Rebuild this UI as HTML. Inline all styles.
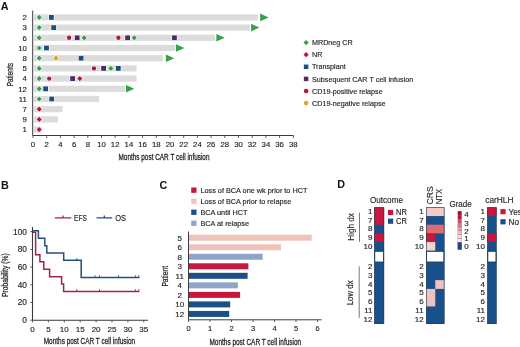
<!DOCTYPE html><html><head><meta charset="utf-8"><style>html,body{margin:0;padding:0;background:#fff;width:520px;height:347px;overflow:hidden}svg{display:block;will-change:transform}text{font-family:"Liberation Sans",sans-serif}</style></head><body>
<svg width="520" height="347" viewBox="0 0 520 347">
<rect width="520" height="347" fill="#fff"/>
<text x="0.8" y="9.8" font-size="10.8" fill="#111" text-anchor="start" font-weight="bold" >A</text>
<rect x="34" y="14.299999999999999" width="224.0" height="6.2" fill="#dcdcdc"/>
<rect x="34" y="24.499999999999996" width="216.1" height="6.2" fill="#dcdcdc"/>
<rect x="34" y="34.699999999999996" width="181.1" height="6.2" fill="#dcdcdc"/>
<rect x="34" y="44.9" width="141.5" height="6.2" fill="#dcdcdc"/>
<rect x="34" y="55.099999999999994" width="128.8" height="6.2" fill="#dcdcdc"/>
<rect x="34" y="65.30000000000001" width="102.6" height="6.2" fill="#dcdcdc"/>
<rect x="34" y="75.5" width="102.6" height="6.2" fill="#dcdcdc"/>
<rect x="34" y="85.69999999999999" width="91.1" height="6.2" fill="#dcdcdc"/>
<rect x="34" y="95.9" width="65.2" height="6.2" fill="#dcdcdc"/>
<rect x="34" y="106.1" width="28.5" height="6.2" fill="#dcdcdc"/>
<rect x="34" y="116.30000000000001" width="23.9" height="6.2" fill="#dcdcdc"/>
<rect x="34" y="126.5" width="7.799999999999997" height="6.2" fill="#dcdcdc"/>
<path d="M260.2 13.599999999999998L268.5 17.4L260.2 21.2Z" fill="#34a047"/>
<path d="M251.1 23.799999999999997L259.4 27.599999999999998L251.1 31.4Z" fill="#34a047"/>
<path d="M216.4 34.0L224.70000000000002 37.8L216.4 41.599999999999994Z" fill="#34a047"/>
<path d="M176.0 44.2L184.3 48.0L176.0 51.8Z" fill="#34a047"/>
<path d="M165.9 54.4L174.20000000000002 58.199999999999996L165.9 61.99999999999999Z" fill="#34a047"/>
<path d="M126.0 84.99999999999999L134.3 88.79999999999998L126.0 92.59999999999998Z" fill="#34a047"/>
<path d="M36.60 17.40L39.20 14.80L41.80 17.40L39.20 20.00Z" fill="#34a047" stroke="#fff" stroke-width="1.1" paint-order="stroke"/>
<path d="M36.60 27.60L39.20 25.00L41.80 27.60L39.20 30.20Z" fill="#34a047" stroke="#fff" stroke-width="1.1" paint-order="stroke"/>
<path d="M36.60 37.80L39.20 35.20L41.80 37.80L39.20 40.40Z" fill="#34a047" stroke="#fff" stroke-width="1.1" paint-order="stroke"/>
<path d="M36.60 48.00L39.20 45.40L41.80 48.00L39.20 50.60Z" fill="#34a047" stroke="#fff" stroke-width="1.1" paint-order="stroke"/>
<path d="M36.60 58.20L39.20 55.60L41.80 58.20L39.20 60.80Z" fill="#34a047" stroke="#fff" stroke-width="1.1" paint-order="stroke"/>
<path d="M36.60 68.40L39.20 65.80L41.80 68.40L39.20 71.00Z" fill="#34a047" stroke="#fff" stroke-width="1.1" paint-order="stroke"/>
<path d="M36.60 78.60L39.20 76.00L41.80 78.60L39.20 81.20Z" fill="#34a047" stroke="#fff" stroke-width="1.1" paint-order="stroke"/>
<path d="M36.60 88.80L39.20 86.20L41.80 88.80L39.20 91.40Z" fill="#34a047" stroke="#fff" stroke-width="1.1" paint-order="stroke"/>
<path d="M36.60 99.00L39.20 96.40L41.80 99.00L39.20 101.60Z" fill="#34a047" stroke="#fff" stroke-width="1.1" paint-order="stroke"/>
<path d="M36.60 109.20L39.20 106.60L41.80 109.20L39.20 111.80Z" fill="#b3163e" stroke="#fff" stroke-width="1.1" paint-order="stroke"/>
<path d="M36.60 119.40L39.20 116.80L41.80 119.40L39.20 122.00Z" fill="#b3163e" stroke="#fff" stroke-width="1.1" paint-order="stroke"/>
<path d="M36.60 129.60L39.20 127.00L41.80 129.60L39.20 132.20Z" fill="#b3163e" stroke="#fff" stroke-width="1.1" paint-order="stroke"/>
<rect x="49.00" y="15.00" width="4.8" height="4.8" fill="#1d4e7e" stroke="#fff" stroke-width="1.1" paint-order="stroke"/>
<rect x="51.30" y="25.20" width="4.8" height="4.8" fill="#1d4e7e" stroke="#fff" stroke-width="1.1" paint-order="stroke"/>
<circle cx="69.1" cy="37.80" r="2.2" fill="#b3163e" stroke="#fff" stroke-width="1.1" paint-order="stroke"/>
<rect x="74.80" y="35.40" width="4.8" height="4.8" fill="#4b2b6b" stroke="#fff" stroke-width="1.1" paint-order="stroke"/>
<path d="M81.60 37.80L84.20 35.20L86.80 37.80L84.20 40.40Z" fill="#34a047" stroke="#fff" stroke-width="1.1" paint-order="stroke"/>
<circle cx="118.4" cy="37.80" r="2.2" fill="#b3163e" stroke="#fff" stroke-width="1.1" paint-order="stroke"/>
<rect x="125.20" y="35.40" width="4.8" height="4.8" fill="#4b2b6b" stroke="#fff" stroke-width="1.1" paint-order="stroke"/>
<path d="M131.70 37.80L134.30 35.20L136.90 37.80L134.30 40.40Z" fill="#34a047" stroke="#fff" stroke-width="1.1" paint-order="stroke"/>
<rect x="172.00" y="35.40" width="4.8" height="4.8" fill="#4b2b6b" stroke="#fff" stroke-width="1.1" paint-order="stroke"/>
<rect x="44.10" y="45.60" width="4.8" height="4.8" fill="#1d4e7e" stroke="#fff" stroke-width="1.1" paint-order="stroke"/>
<circle cx="56.0" cy="58.20" r="2.2" fill="#e9a02d" stroke="#fff" stroke-width="1.1" paint-order="stroke"/>
<rect x="78.70" y="55.80" width="4.8" height="4.8" fill="#1d4e7e" stroke="#fff" stroke-width="1.1" paint-order="stroke"/>
<circle cx="94.0" cy="68.40" r="2.2" fill="#b3163e" stroke="#fff" stroke-width="1.1" paint-order="stroke"/>
<rect x="101.20" y="66.00" width="4.8" height="4.8" fill="#4b2b6b" stroke="#fff" stroke-width="1.1" paint-order="stroke"/>
<path d="M108.20 68.40L110.80 65.80L113.40 68.40L110.80 71.00Z" fill="#34a047" stroke="#fff" stroke-width="1.1" paint-order="stroke"/>
<rect x="115.90" y="66.00" width="4.8" height="4.8" fill="#1d4e7e" stroke="#fff" stroke-width="1.1" paint-order="stroke"/>
<circle cx="49.2" cy="78.60" r="2.2" fill="#b3163e" stroke="#fff" stroke-width="1.1" paint-order="stroke"/>
<rect x="70.20" y="76.20" width="4.8" height="4.8" fill="#4b2b6b" stroke="#fff" stroke-width="1.1" paint-order="stroke"/>
<path d="M77.20 78.60L79.80 76.00L82.40 78.60L79.80 81.20Z" fill="#b3163e" stroke="#fff" stroke-width="1.1" paint-order="stroke"/>
<rect x="43.20" y="86.40" width="4.8" height="4.8" fill="#1d4e7e" stroke="#fff" stroke-width="1.1" paint-order="stroke"/>
<rect x="49.30" y="96.60" width="4.8" height="4.8" fill="#1d4e7e" stroke="#fff" stroke-width="1.1" paint-order="stroke"/>
<path d="M32.7 10.6V135.5H293.5" fill="none" stroke="#3c3c3c" stroke-width="1"/>
<path d="M33.00 135.5V138M46.70 135.5V138M60.40 135.5V138M74.10 135.5V138M87.80 135.5V138M101.50 135.5V138M115.20 135.5V138M128.90 135.5V138M142.60 135.5V138M156.30 135.5V138M170.00 135.5V138M183.70 135.5V138M197.40 135.5V138M211.10 135.5V138M224.80 135.5V138M238.50 135.5V138M252.20 135.5V138M265.90 135.5V138M279.60 135.5V138M293.30 135.5V138" stroke="#3c3c3c" stroke-width="0.8"/>
<text x="33.0" y="146.9" font-size="7.8" fill="#1f1f1f" text-anchor="middle" stroke="#1f1f1f" stroke-width="0.15" >0</text>
<text x="46.7" y="146.9" font-size="7.8" fill="#1f1f1f" text-anchor="middle" stroke="#1f1f1f" stroke-width="0.15" >2</text>
<text x="60.4" y="146.9" font-size="7.8" fill="#1f1f1f" text-anchor="middle" stroke="#1f1f1f" stroke-width="0.15" >4</text>
<text x="74.1" y="146.9" font-size="7.8" fill="#1f1f1f" text-anchor="middle" stroke="#1f1f1f" stroke-width="0.15" >6</text>
<text x="87.8" y="146.9" font-size="7.8" fill="#1f1f1f" text-anchor="middle" stroke="#1f1f1f" stroke-width="0.15" >8</text>
<text x="101.5" y="146.9" font-size="7.8" fill="#1f1f1f" text-anchor="middle" stroke="#1f1f1f" stroke-width="0.15" >10</text>
<text x="115.2" y="146.9" font-size="7.8" fill="#1f1f1f" text-anchor="middle" stroke="#1f1f1f" stroke-width="0.15" >12</text>
<text x="128.9" y="146.9" font-size="7.8" fill="#1f1f1f" text-anchor="middle" stroke="#1f1f1f" stroke-width="0.15" >14</text>
<text x="142.6" y="146.9" font-size="7.8" fill="#1f1f1f" text-anchor="middle" stroke="#1f1f1f" stroke-width="0.15" >16</text>
<text x="156.3" y="146.9" font-size="7.8" fill="#1f1f1f" text-anchor="middle" stroke="#1f1f1f" stroke-width="0.15" >18</text>
<text x="170.0" y="146.9" font-size="7.8" fill="#1f1f1f" text-anchor="middle" stroke="#1f1f1f" stroke-width="0.15" >20</text>
<text x="183.7" y="146.9" font-size="7.8" fill="#1f1f1f" text-anchor="middle" stroke="#1f1f1f" stroke-width="0.15" >22</text>
<text x="197.4" y="146.9" font-size="7.8" fill="#1f1f1f" text-anchor="middle" stroke="#1f1f1f" stroke-width="0.15" >24</text>
<text x="211.1" y="146.9" font-size="7.8" fill="#1f1f1f" text-anchor="middle" stroke="#1f1f1f" stroke-width="0.15" >26</text>
<text x="224.8" y="146.9" font-size="7.8" fill="#1f1f1f" text-anchor="middle" stroke="#1f1f1f" stroke-width="0.15" >28</text>
<text x="238.5" y="146.9" font-size="7.8" fill="#1f1f1f" text-anchor="middle" stroke="#1f1f1f" stroke-width="0.15" >30</text>
<text x="252.2" y="146.9" font-size="7.8" fill="#1f1f1f" text-anchor="middle" stroke="#1f1f1f" stroke-width="0.15" >32</text>
<text x="265.9" y="146.9" font-size="7.8" fill="#1f1f1f" text-anchor="middle" stroke="#1f1f1f" stroke-width="0.15" >34</text>
<text x="279.6" y="146.9" font-size="7.8" fill="#1f1f1f" text-anchor="middle" stroke="#1f1f1f" stroke-width="0.15" >36</text>
<text x="293.3" y="146.9" font-size="7.8" fill="#1f1f1f" text-anchor="middle" stroke="#1f1f1f" stroke-width="0.15" >38</text>
<text x="26.9" y="20.2" font-size="7.8" fill="#1f1f1f" text-anchor="end" stroke="#1f1f1f" stroke-width="0.15" >2</text>
<text x="26.9" y="30.4" font-size="7.8" fill="#1f1f1f" text-anchor="end" stroke="#1f1f1f" stroke-width="0.15" >3</text>
<text x="26.9" y="40.599999999999994" font-size="7.8" fill="#1f1f1f" text-anchor="end" stroke="#1f1f1f" stroke-width="0.15" >6</text>
<text x="26.9" y="50.8" font-size="7.8" fill="#1f1f1f" text-anchor="end" stroke="#1f1f1f" stroke-width="0.15" >10</text>
<text x="26.9" y="60.99999999999999" font-size="7.8" fill="#1f1f1f" text-anchor="end" stroke="#1f1f1f" stroke-width="0.15" >8</text>
<text x="26.9" y="71.2" font-size="7.8" fill="#1f1f1f" text-anchor="end" stroke="#1f1f1f" stroke-width="0.15" >5</text>
<text x="26.9" y="81.39999999999999" font-size="7.8" fill="#1f1f1f" text-anchor="end" stroke="#1f1f1f" stroke-width="0.15" >4</text>
<text x="26.9" y="91.59999999999998" font-size="7.8" fill="#1f1f1f" text-anchor="end" stroke="#1f1f1f" stroke-width="0.15" >12</text>
<text x="26.9" y="101.8" font-size="7.8" fill="#1f1f1f" text-anchor="end" stroke="#1f1f1f" stroke-width="0.15" >11</text>
<text x="26.9" y="111.99999999999999" font-size="7.8" fill="#1f1f1f" text-anchor="end" stroke="#1f1f1f" stroke-width="0.15" >7</text>
<text x="26.9" y="122.2" font-size="7.8" fill="#1f1f1f" text-anchor="end" stroke="#1f1f1f" stroke-width="0.15" >9</text>
<text x="26.9" y="132.4" font-size="7.8" fill="#1f1f1f" text-anchor="end" stroke="#1f1f1f" stroke-width="0.15" >1</text>
<text x="164" y="160" font-size="9.2" fill="#1f1f1f" text-anchor="middle" stroke="#1f1f1f" stroke-width="0.28" textLength="91" lengthAdjust="spacingAndGlyphs" >Months post CAR T cell infusion</text>
<text x="13" y="74.7" font-size="9" fill="#1f1f1f" text-anchor="middle" stroke="#1f1f1f" stroke-width="0.25" textLength="23.3" lengthAdjust="spacingAndGlyphs" transform="rotate(-90 13 74.7)" >Patients</text>
<path d="M303.50 42.60L306.10 40.00L308.70 42.60L306.10 45.20Z" fill="#34a047" stroke="#fff" stroke-width="1.1" paint-order="stroke"/>
<text x="312" y="45.2" font-size="7.2" fill="#262626" text-anchor="start" stroke="#262626" stroke-width="0.15" >MRDneg CR</text>
<path d="M303.50 54.70L306.10 52.10L308.70 54.70L306.10 57.30Z" fill="#b3163e" stroke="#fff" stroke-width="1.1" paint-order="stroke"/>
<text x="312" y="57.300000000000004" font-size="7.2" fill="#262626" text-anchor="start" stroke="#262626" stroke-width="0.15" >NR</text>
<rect x="303.85" y="64.55" width="4.5" height="4.5" fill="#1d4e7e" stroke="#fff" stroke-width="1.1" paint-order="stroke"/>
<text x="312" y="69.39999999999999" font-size="7.2" fill="#262626" text-anchor="start" stroke="#262626" stroke-width="0.15" >Transplant</text>
<rect x="303.85" y="76.65" width="4.5" height="4.5" fill="#4b2b6b" stroke="#fff" stroke-width="1.1" paint-order="stroke"/>
<text x="312" y="81.5" font-size="7.2" fill="#262626" text-anchor="start" stroke="#262626" stroke-width="0.15" >Subsequent CAR T cell infusion</text>
<circle cx="306.1" cy="91.00" r="2.3" fill="#b3163e" stroke="#fff" stroke-width="1.1" paint-order="stroke"/>
<text x="312" y="93.6" font-size="7.2" fill="#262626" text-anchor="start" stroke="#262626" stroke-width="0.15" >CD19-positive relapse</text>
<circle cx="306.1" cy="103.10" r="2.3" fill="#e9a02d" stroke="#fff" stroke-width="1.1" paint-order="stroke"/>
<text x="312" y="105.69999999999999" font-size="7.2" fill="#262626" text-anchor="start" stroke="#262626" stroke-width="0.15" >CD19-negative relapse</text>
<text x="1.0" y="188.5" font-size="10.8" fill="#111" text-anchor="start" font-weight="bold" >B</text>
<path d="M32.5 232.2H35.6V254.8H39.9V261.8H43.8V269.3H49.6V276.7H61.6V283.9H63.6V291.4H139.4" fill="none" stroke="#a3214b" stroke-width="1.5"/>
<path d="M32.5 230.7H38.4V238.3H44.8V245.7H46.8V253.0H63.7V260.3H81.2V277.5H139.4" fill="none" stroke="#22507f" stroke-width="1.5"/>
<path d="M94.9 275.3V277.5M99.5 275.3V277.5M118.5 275.3V277.5M135.3 275.3V277.5M138.8 275.3V277.5M76.8 258.1V260.3" stroke="#22507f" stroke-width="0.9"/>
<path d="M76.8 289.2V291.4M99.5 289.2V291.4M135.3 289.2V291.4M138.8 289.2V291.4" stroke="#a3214b" stroke-width="0.9"/>
<path d="M32.5 226.9V320.2H148" fill="none" stroke="#3c3c3c" stroke-width="1.1"/>
<path d="M30.2 320.20H32.5M30.2 302.49H32.5M30.2 284.78H32.5M30.2 267.07H32.5M30.2 249.36H32.5M30.2 231.65H32.5M32.50 320.2V322.5M48.40 320.2V322.5M64.30 320.2V322.5M80.20 320.2V322.5M96.10 320.2V322.5M112.00 320.2V322.5M127.90 320.2V322.5M143.80 320.2V322.5" stroke="#3c3c3c" stroke-width="0.8"/>
<text x="26.9" y="323.09999999999997" font-size="8.3" fill="#1f1f1f" text-anchor="end" stroke="#1f1f1f" stroke-width="0.15" >0</text>
<text x="26.9" y="305.39" font-size="8.3" fill="#1f1f1f" text-anchor="end" stroke="#1f1f1f" stroke-width="0.15" >20</text>
<text x="26.9" y="287.67999999999995" font-size="8.3" fill="#1f1f1f" text-anchor="end" stroke="#1f1f1f" stroke-width="0.15" >40</text>
<text x="26.9" y="269.96999999999997" font-size="8.3" fill="#1f1f1f" text-anchor="end" stroke="#1f1f1f" stroke-width="0.15" >60</text>
<text x="26.9" y="252.26" font-size="8.3" fill="#1f1f1f" text-anchor="end" stroke="#1f1f1f" stroke-width="0.15" >80</text>
<text x="26.9" y="234.54999999999998" font-size="8.3" fill="#1f1f1f" text-anchor="end" stroke="#1f1f1f" stroke-width="0.15" >100</text>
<text x="32.5" y="332.4" font-size="8" fill="#1f1f1f" text-anchor="middle" stroke="#1f1f1f" stroke-width="0.15" >0</text>
<text x="48.4" y="332.4" font-size="8" fill="#1f1f1f" text-anchor="middle" stroke="#1f1f1f" stroke-width="0.15" >5</text>
<text x="64.3" y="332.4" font-size="8" fill="#1f1f1f" text-anchor="middle" stroke="#1f1f1f" stroke-width="0.15" >10</text>
<text x="80.2" y="332.4" font-size="8" fill="#1f1f1f" text-anchor="middle" stroke="#1f1f1f" stroke-width="0.15" >15</text>
<text x="96.1" y="332.4" font-size="8" fill="#1f1f1f" text-anchor="middle" stroke="#1f1f1f" stroke-width="0.15" >20</text>
<text x="112.0" y="332.4" font-size="8" fill="#1f1f1f" text-anchor="middle" stroke="#1f1f1f" stroke-width="0.15" >25</text>
<text x="127.9" y="332.4" font-size="8" fill="#1f1f1f" text-anchor="middle" stroke="#1f1f1f" stroke-width="0.15" >30</text>
<text x="143.8" y="332.4" font-size="8" fill="#1f1f1f" text-anchor="middle" stroke="#1f1f1f" stroke-width="0.15" >35</text>
<text x="89.4" y="344.3" font-size="9.6" fill="#1f1f1f" text-anchor="middle" stroke="#1f1f1f" stroke-width="0.28" textLength="91.3" lengthAdjust="spacingAndGlyphs" >Months post CAR T cell infusion</text>
<text x="8.2" y="275.2" font-size="9" fill="#1f1f1f" text-anchor="middle" stroke="#1f1f1f" stroke-width="0.25" textLength="43.7" lengthAdjust="spacingAndGlyphs" transform="rotate(-90 8.2 275.2)" >Probability (%)</text>
<path d="M54.9 217.8H71.3M63.0 215.5V217.8" stroke="#a3214b" stroke-width="1.3" fill="none"/>
<path d="M96.5 217.8H112.2M104.3 215.5V217.8" stroke="#22507f" stroke-width="1.3" fill="none"/>
<text x="74.1" y="220.9" font-size="8.2" fill="#262626" text-anchor="start" stroke="#262626" stroke-width="0.15" textLength="12.7" lengthAdjust="spacingAndGlyphs" >EFS</text>
<text x="115.2" y="220.9" font-size="8.2" fill="#262626" text-anchor="start" stroke="#262626" stroke-width="0.15" textLength="10.8" lengthAdjust="spacingAndGlyphs" >OS</text>
<text x="159.6" y="188.6" font-size="10.8" fill="#111" text-anchor="start" font-weight="bold" >C</text>
<rect x="191.2" y="187.54999999999998" width="5.3" height="5.3" fill="#c8163d"/>
<text x="200.4" y="192.79999999999998" font-size="7.3" fill="#262626" text-anchor="start" stroke="#262626" stroke-width="0.15" >Loss of BCA one wk prior to HCT</text>
<rect x="191.2" y="198.57999999999998" width="5.3" height="5.3" fill="#efc2bc"/>
<text x="200.4" y="203.82999999999998" font-size="7.3" fill="#262626" text-anchor="start" stroke="#262626" stroke-width="0.15" >Loss of BCA prior to relapse</text>
<rect x="191.2" y="209.60999999999999" width="5.3" height="5.3" fill="#1b5086"/>
<text x="200.4" y="214.85999999999999" font-size="7.3" fill="#262626" text-anchor="start" stroke="#262626" stroke-width="0.15" >BCA until HCT</text>
<rect x="191.2" y="220.64" width="5.3" height="5.3" fill="#8ea5c7"/>
<text x="200.4" y="225.89" font-size="7.3" fill="#262626" text-anchor="start" stroke="#262626" stroke-width="0.15" >BCA at relapse</text>
<rect x="189" y="234.7" width="122.69999999999999" height="6" fill="#efc2bc"/>
<text x="179.7" y="240.5" font-size="8" fill="#1f1f1f" text-anchor="middle" stroke="#1f1f1f" stroke-width="0.15" >5</text>
<rect x="189" y="244.23" width="92.0" height="6" fill="#efc2bc"/>
<text x="179.7" y="250.03" font-size="8" fill="#1f1f1f" text-anchor="middle" stroke="#1f1f1f" stroke-width="0.15" >6</text>
<rect x="189" y="253.76" width="73.69999999999999" height="6" fill="#8ea5c7"/>
<text x="179.7" y="259.56" font-size="8" fill="#1f1f1f" text-anchor="middle" stroke="#1f1f1f" stroke-width="0.15" >8</text>
<rect x="189" y="263.28999999999996" width="59.400000000000006" height="6" fill="#c8163d"/>
<text x="179.7" y="269.09" font-size="8" fill="#1f1f1f" text-anchor="middle" stroke="#1f1f1f" stroke-width="0.15" >3</text>
<rect x="189" y="272.82" width="58.599999999999994" height="6" fill="#1b5086"/>
<text x="179.7" y="278.62" font-size="8" fill="#1f1f1f" text-anchor="middle" stroke="#1f1f1f" stroke-width="0.15" >11</text>
<rect x="189" y="282.34999999999997" width="48.900000000000006" height="6" fill="#8ea5c7"/>
<text x="179.7" y="288.15" font-size="8" fill="#1f1f1f" text-anchor="middle" stroke="#1f1f1f" stroke-width="0.15" >4</text>
<rect x="189" y="291.88" width="51.099999999999994" height="6" fill="#c8163d"/>
<text x="179.7" y="297.68" font-size="8" fill="#1f1f1f" text-anchor="middle" stroke="#1f1f1f" stroke-width="0.15" >2</text>
<rect x="189" y="301.40999999999997" width="41.19999999999999" height="6" fill="#1b5086"/>
<text x="179.7" y="307.21" font-size="8" fill="#1f1f1f" text-anchor="middle" stroke="#1f1f1f" stroke-width="0.15" >10</text>
<rect x="189" y="310.94" width="40.19999999999999" height="6" fill="#1b5086"/>
<text x="179.7" y="316.74" font-size="8" fill="#1f1f1f" text-anchor="middle" stroke="#1f1f1f" stroke-width="0.15" >12</text>
<path d="M188.5 231.5V319.8H321.5" fill="none" stroke="#3c3c3c" stroke-width="1"/>
<path d="M188.50 319.8V322M210.00 319.8V322M231.50 319.8V322M253.00 319.8V322M274.50 319.8V322M296.00 319.8V322M317.50 319.8V322" stroke="#3c3c3c" stroke-width="0.8"/>
<text x="188.5" y="331" font-size="7.5" fill="#1f1f1f" text-anchor="middle" stroke="#1f1f1f" stroke-width="0.15" >0</text>
<text x="210.0" y="331" font-size="7.5" fill="#1f1f1f" text-anchor="middle" stroke="#1f1f1f" stroke-width="0.15" >1</text>
<text x="231.5" y="331" font-size="7.5" fill="#1f1f1f" text-anchor="middle" stroke="#1f1f1f" stroke-width="0.15" >2</text>
<text x="253.0" y="331" font-size="7.5" fill="#1f1f1f" text-anchor="middle" stroke="#1f1f1f" stroke-width="0.15" >3</text>
<text x="274.5" y="331" font-size="7.5" fill="#1f1f1f" text-anchor="middle" stroke="#1f1f1f" stroke-width="0.15" >4</text>
<text x="296.0" y="331" font-size="7.5" fill="#1f1f1f" text-anchor="middle" stroke="#1f1f1f" stroke-width="0.15" >5</text>
<text x="317.5" y="331" font-size="7.5" fill="#1f1f1f" text-anchor="middle" stroke="#1f1f1f" stroke-width="0.15" >6</text>
<text x="255.3" y="345.2" font-size="9.4" fill="#1f1f1f" text-anchor="middle" stroke="#1f1f1f" stroke-width="0.28" textLength="91.7" lengthAdjust="spacingAndGlyphs" >Months post CAR T cell infusion</text>
<text x="167.8" y="276.3" font-size="9" fill="#1f1f1f" text-anchor="middle" stroke="#1f1f1f" stroke-width="0.25" textLength="20.6" lengthAdjust="spacingAndGlyphs" transform="rotate(-90 167.8 276.3)" >Patient</text>
<text x="337.3" y="188.3" font-size="10.8" fill="#111" text-anchor="start" font-weight="bold" >D</text>
<rect x="374.25" y="207.4" width="9.85" height="116.60" fill="#17508a"/>
<rect x="374.25" y="207.40" width="9.85" height="17.32" fill="#c8163d"/>
<rect x="374.25" y="233.38" width="9.85" height="8.66" fill="#c8163d"/>
<rect x="374.75" y="251.29999999999998" width="8.85" height="10.70" fill="#fff" stroke="#2a3a50" stroke-width="0.9"/>
<rect x="374.55" y="207.70000000000002" width="9.25" height="116.00" fill="none" stroke="#2a3a50" stroke-width="0.6"/>
<rect x="426.1" y="207.4" width="18.3" height="116.60" fill="#17508a"/>
<rect x="426.1" y="207.40" width="18.3" height="8.66" fill="#f3cbc6"/>
<rect x="426.1" y="224.72" width="18.3" height="8.66" fill="#df6b6e"/>
<rect x="426.10" y="233.38" width="9.15" height="8.66" fill="#c8163d"/>
<rect x="426.10" y="242.04" width="9.15" height="8.66" fill="#f4d6d0"/>
<rect x="426.10" y="288.91" width="9.15" height="17.54" fill="#f0c2bf"/>
<rect x="435.25" y="280.14" width="9.15" height="8.77" fill="#f0c2bf"/>
<rect x="426.6" y="251.29999999999998" width="17.3" height="10.70" fill="#fff" stroke="#2a3a50" stroke-width="0.9"/>
<rect x="426.40000000000003" y="207.70000000000002" width="17.7" height="116.00" fill="none" stroke="#2a3a50" stroke-width="0.6"/>
<rect x="487.3" y="207.4" width="9.2" height="116.60" fill="#17508a"/>
<rect x="487.30" y="207.40" width="9.20" height="8.66" fill="#c8163d"/>
<rect x="487.30" y="233.38" width="9.20" height="8.66" fill="#c8163d"/>
<rect x="487.8" y="251.29999999999998" width="8.2" height="10.70" fill="#fff" stroke="#2a3a50" stroke-width="0.9"/>
<rect x="487.6" y="207.70000000000002" width="8.6" height="116.00" fill="none" stroke="#2a3a50" stroke-width="0.6"/>
<text x="372.5" y="213.93" font-size="8" fill="#1f1f1f" text-anchor="end" stroke="#1f1f1f" stroke-width="0.15" >1</text>
<text x="372.5" y="222.59" font-size="8" fill="#1f1f1f" text-anchor="end" stroke="#1f1f1f" stroke-width="0.15" >7</text>
<text x="372.5" y="231.25" font-size="8" fill="#1f1f1f" text-anchor="end" stroke="#1f1f1f" stroke-width="0.15" >8</text>
<text x="372.5" y="239.91" font-size="8" fill="#1f1f1f" text-anchor="end" stroke="#1f1f1f" stroke-width="0.15" >9</text>
<text x="372.5" y="248.57000000000002" font-size="8" fill="#1f1f1f" text-anchor="end" stroke="#1f1f1f" stroke-width="0.15" >10</text>
<text x="372.5" y="269.185" font-size="8" fill="#1f1f1f" text-anchor="end" stroke="#1f1f1f" stroke-width="0.15" >2</text>
<text x="372.5" y="277.955" font-size="8" fill="#1f1f1f" text-anchor="end" stroke="#1f1f1f" stroke-width="0.15" >3</text>
<text x="372.5" y="286.725" font-size="8" fill="#1f1f1f" text-anchor="end" stroke="#1f1f1f" stroke-width="0.15" >4</text>
<text x="372.5" y="295.495" font-size="8" fill="#1f1f1f" text-anchor="end" stroke="#1f1f1f" stroke-width="0.15" >5</text>
<text x="372.5" y="304.265" font-size="8" fill="#1f1f1f" text-anchor="end" stroke="#1f1f1f" stroke-width="0.15" >6</text>
<text x="372.5" y="313.035" font-size="8" fill="#1f1f1f" text-anchor="end" stroke="#1f1f1f" stroke-width="0.15" >11</text>
<text x="372.5" y="321.805" font-size="8" fill="#1f1f1f" text-anchor="end" stroke="#1f1f1f" stroke-width="0.15" >12</text>
<text x="423.6" y="213.93" font-size="8" fill="#1f1f1f" text-anchor="end" stroke="#1f1f1f" stroke-width="0.15" >1</text>
<text x="423.6" y="222.59" font-size="8" fill="#1f1f1f" text-anchor="end" stroke="#1f1f1f" stroke-width="0.15" >7</text>
<text x="423.6" y="231.25" font-size="8" fill="#1f1f1f" text-anchor="end" stroke="#1f1f1f" stroke-width="0.15" >8</text>
<text x="423.6" y="239.91" font-size="8" fill="#1f1f1f" text-anchor="end" stroke="#1f1f1f" stroke-width="0.15" >9</text>
<text x="423.6" y="248.57000000000002" font-size="8" fill="#1f1f1f" text-anchor="end" stroke="#1f1f1f" stroke-width="0.15" >10</text>
<text x="423.6" y="269.185" font-size="8" fill="#1f1f1f" text-anchor="end" stroke="#1f1f1f" stroke-width="0.15" >2</text>
<text x="423.6" y="277.955" font-size="8" fill="#1f1f1f" text-anchor="end" stroke="#1f1f1f" stroke-width="0.15" >3</text>
<text x="423.6" y="286.725" font-size="8" fill="#1f1f1f" text-anchor="end" stroke="#1f1f1f" stroke-width="0.15" >4</text>
<text x="423.6" y="295.495" font-size="8" fill="#1f1f1f" text-anchor="end" stroke="#1f1f1f" stroke-width="0.15" >5</text>
<text x="423.6" y="304.265" font-size="8" fill="#1f1f1f" text-anchor="end" stroke="#1f1f1f" stroke-width="0.15" >6</text>
<text x="423.6" y="313.035" font-size="8" fill="#1f1f1f" text-anchor="end" stroke="#1f1f1f" stroke-width="0.15" >11</text>
<text x="423.6" y="321.805" font-size="8" fill="#1f1f1f" text-anchor="end" stroke="#1f1f1f" stroke-width="0.15" >12</text>
<text x="485.0" y="213.93" font-size="8" fill="#1f1f1f" text-anchor="end" stroke="#1f1f1f" stroke-width="0.15" >1</text>
<text x="485.0" y="222.59" font-size="8" fill="#1f1f1f" text-anchor="end" stroke="#1f1f1f" stroke-width="0.15" >7</text>
<text x="485.0" y="231.25" font-size="8" fill="#1f1f1f" text-anchor="end" stroke="#1f1f1f" stroke-width="0.15" >8</text>
<text x="485.0" y="239.91" font-size="8" fill="#1f1f1f" text-anchor="end" stroke="#1f1f1f" stroke-width="0.15" >9</text>
<text x="485.0" y="248.57000000000002" font-size="8" fill="#1f1f1f" text-anchor="end" stroke="#1f1f1f" stroke-width="0.15" >10</text>
<text x="485.0" y="269.185" font-size="8" fill="#1f1f1f" text-anchor="end" stroke="#1f1f1f" stroke-width="0.15" >2</text>
<text x="485.0" y="277.955" font-size="8" fill="#1f1f1f" text-anchor="end" stroke="#1f1f1f" stroke-width="0.15" >3</text>
<text x="485.0" y="286.725" font-size="8" fill="#1f1f1f" text-anchor="end" stroke="#1f1f1f" stroke-width="0.15" >4</text>
<text x="485.0" y="295.495" font-size="8" fill="#1f1f1f" text-anchor="end" stroke="#1f1f1f" stroke-width="0.15" >5</text>
<text x="485.0" y="304.265" font-size="8" fill="#1f1f1f" text-anchor="end" stroke="#1f1f1f" stroke-width="0.15" >6</text>
<text x="485.0" y="313.035" font-size="8" fill="#1f1f1f" text-anchor="end" stroke="#1f1f1f" stroke-width="0.15" >11</text>
<text x="485.0" y="321.805" font-size="8" fill="#1f1f1f" text-anchor="end" stroke="#1f1f1f" stroke-width="0.15" >12</text>
<text x="386.45" y="203.3" font-size="8.6" fill="#262626" text-anchor="middle" stroke="#262626" stroke-width="0.15" textLength="33" lengthAdjust="spacingAndGlyphs" >Outcome</text>
<text x="499.4" y="203.2" font-size="8.8" fill="#262626" text-anchor="middle" stroke="#262626" stroke-width="0.15" textLength="28.2" lengthAdjust="spacingAndGlyphs" >carHLH</text>
<text x="460.6" y="207.2" font-size="8.8" fill="#262626" text-anchor="middle" stroke="#262626" stroke-width="0.15" textLength="22.3" lengthAdjust="spacingAndGlyphs" >Grade</text>
<text x="433.0" y="195.3" font-size="8.6" fill="#262626" text-anchor="middle" stroke="#262626" stroke-width="0.15" textLength="18.3" lengthAdjust="spacingAndGlyphs" transform="rotate(-90 433.0 195.3)" >CRS</text>
<text x="441.7" y="196.5" font-size="8.2" fill="#262626" text-anchor="middle" stroke="#262626" stroke-width="0.15" textLength="15.4" lengthAdjust="spacingAndGlyphs" transform="rotate(-90 441.7 196.5)" >NTX</text>
<rect x="388" y="209.9" width="5.2" height="5.2" fill="#c8163d"/>
<rect x="388" y="218.6" width="5.2" height="5.2" fill="#17508a"/>
<text x="396" y="215.4" font-size="8.2" fill="#262626" text-anchor="start" stroke="#262626" stroke-width="0.15" textLength="10.9" lengthAdjust="spacingAndGlyphs" >NR</text>
<text x="396" y="224.1" font-size="8.2" fill="#262626" text-anchor="start" stroke="#262626" stroke-width="0.15" textLength="10.9" lengthAdjust="spacingAndGlyphs" >CR</text>
<rect x="500.4" y="209.1" width="5.2" height="5.2" fill="#c8163d"/>
<rect x="500.4" y="219.2" width="5.2" height="5.2" fill="#17508a"/>
<text x="508.5" y="214.6" font-size="8.2" fill="#262626" text-anchor="start" stroke="#262626" stroke-width="0.15" >Yes</text>
<text x="508.5" y="224.7" font-size="8.2" fill="#262626" text-anchor="start" stroke="#262626" stroke-width="0.15" >No</text>
<rect x="457.7" y="211.2" width="3.9" height="38.4" fill="#8a6070"/>
<rect x="457.95" y="211.45" width="3.4" height="3.4" fill="#9e0a30"/>
<rect x="457.95" y="215.35" width="3.4" height="3.4" fill="#c0103c"/>
<rect x="457.95" y="219.25" width="3.4" height="3.4" fill="#cf5066"/>
<rect x="457.95" y="223.15" width="3.4" height="3.4" fill="#dc7c8a"/>
<rect x="457.95" y="227.05" width="3.4" height="3.4" fill="#e6a0aa"/>
<rect x="457.95" y="230.95" width="3.4" height="3.4" fill="#efc0c6"/>
<rect x="457.95" y="234.85" width="3.4" height="3.4" fill="#f6dde0"/>
<rect x="457.95" y="238.75" width="3.4" height="3.4" fill="#f3ecf3"/>
<rect x="457.7" y="242.40" width="3.9" height="7.20" fill="#1d4774"/>
<text x="464.3" y="216.6" font-size="8" fill="#262626" text-anchor="start" stroke="#262626" stroke-width="0.15" >4</text>
<text x="464.3" y="225.9" font-size="8" fill="#262626" text-anchor="start" stroke="#262626" stroke-width="0.15" >3</text>
<text x="464.3" y="233.5" font-size="8" fill="#262626" text-anchor="start" stroke="#262626" stroke-width="0.15" >2</text>
<text x="464.3" y="241.20000000000002" font-size="8" fill="#262626" text-anchor="start" stroke="#262626" stroke-width="0.15" >1</text>
<text x="464.3" y="248.8" font-size="8" fill="#262626" text-anchor="start" stroke="#262626" stroke-width="0.15" >0</text>
<path d="M359.5 212.6V241.9M359.2 266.4V318" stroke="#555" stroke-width="0.8"/>
<text x="354.1" y="226.9" font-size="8.6" fill="#262626" text-anchor="middle" stroke="#262626" stroke-width="0.15" textLength="27.7" lengthAdjust="spacingAndGlyphs" transform="rotate(-90 354.1 226.9)" >High dx</text>
<text x="353.4" y="292.8" font-size="8.6" fill="#262626" text-anchor="middle" stroke="#262626" stroke-width="0.15" textLength="25" lengthAdjust="spacingAndGlyphs" transform="rotate(-90 353.4 292.8)" >Low dx</text>
</svg></body></html>
